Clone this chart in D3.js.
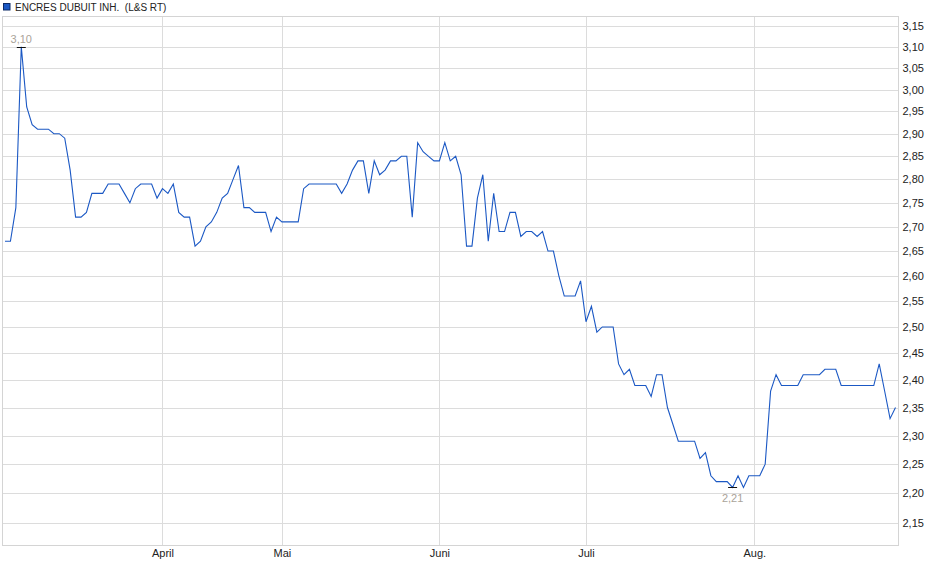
<!DOCTYPE html>
<html>
<head>
<meta charset="utf-8">
<script src="https://cdn.jsdelivr.net/npm/d3@7/dist/d3.min.js"></script>
<style>
  html, body { margin: 0; padding: 0; background: #fff; }
  svg { display: block; font-family: "Liberation Sans", Arial, sans-serif; }
</style>
</head>
<body>
<svg id="chart" width="940" height="579"></svg>
<script>
// ---- data ----
const seriesName = "ENCRES DUBUIT INH.  (L&S RT)";
const prices = [
  2.67, 2.67, 2.74, 3.10, 2.96, 2.92, 2.91, 2.91, 2.91, 2.90,
  2.90, 2.89, 2.82, 2.72, 2.72, 2.73, 2.77, 2.77, 2.77, 2.79,
  2.79, 2.79, 2.77, 2.75, 2.78, 2.79, 2.79, 2.79, 2.76, 2.78,
  2.77, 2.79, 2.73, 2.72, 2.72, 2.66, 2.67, 2.70, 2.71, 2.73,
  2.76, 2.77, 2.80, 2.83, 2.74, 2.74, 2.73, 2.73, 2.73, 2.69,
  2.72, 2.71, 2.71, 2.71, 2.71, 2.78, 2.79, 2.79, 2.79, 2.79,
  2.79, 2.79, 2.77, 2.79, 2.82, 2.84, 2.84, 2.77, 2.84, 2.81,
  2.82, 2.84, 2.84, 2.85, 2.85, 2.72, 2.88, 2.86, 2.85, 2.84,
  2.84, 2.88, 2.84, 2.85, 2.81, 2.66, 2.66, 2.76, 2.81, 2.67,
  2.77, 2.69, 2.69, 2.73, 2.73, 2.68, 2.69, 2.69, 2.68, 2.69,
  2.65, 2.65, 2.60, 2.56, 2.56, 2.56, 2.59, 2.51, 2.54, 2.49,
  2.50, 2.50, 2.50, 2.43, 2.41, 2.42, 2.39, 2.39, 2.39, 2.37,
  2.41, 2.41, 2.35, 2.32, 2.29, 2.29, 2.29, 2.29, 2.26, 2.27,
  2.23, 2.22, 2.22, 2.22, 2.21, 2.23, 2.21, 2.23, 2.23, 2.23,
  2.25, 2.38, 2.41, 2.39, 2.39, 2.39, 2.39, 2.41, 2.41, 2.41,
  2.41, 2.42, 2.42, 2.42, 2.39, 2.39, 2.39, 2.39, 2.39, 2.39,
  2.39, 2.43, 2.38, 2.33, 2.35
];
const monthLabels = ["April", "Mai", "Juni", "Juli", "Aug."];
const monthIndex = [29, 51, 80, 107, 138];
const yTickValues = [2.15, 2.20, 2.25, 2.30, 2.35, 2.40, 2.45, 2.50, 2.55, 2.60,
                     2.65, 2.70, 2.75, 2.80, 2.85, 2.90, 2.95, 3.00, 3.05, 3.10, 3.15];
const yDomain = [2.1145, 3.1743];

// ---- layout ----
const plot = { left: 2.5, right: 898.5, top: 16, bottom: 545 };
const svg = d3.select("#chart");

const x = d3.scaleLinear().domain([0, prices.length - 1]).range([5, 895.5]);
const y = d3.scaleLog().domain(yDomain).range([plot.bottom, plot.top]);
const fmt = v => d3.format(".2f")(v).replace(".", ",");
const crisp = v => Math.round(v) + 0.5;

// horizontal grid
svg.append("g").selectAll("line").data(yTickValues).join("line")
  .attr("x1", plot.left).attr("x2", plot.right)
  .attr("y1", d => crisp(y(d))).attr("y2", d => crisp(y(d)))
  .attr("stroke", "#dcdcdc").attr("stroke-width", 1);

// vertical grid
svg.append("g").selectAll("line").data(monthIndex).join("line")
  .attr("x1", d => crisp(x(d))).attr("x2", d => crisp(x(d)))
  .attr("y1", plot.top).attr("y2", plot.bottom)
  .attr("stroke", "#dcdcdc").attr("stroke-width", 1);

// frame
svg.append("rect")
  .attr("x", plot.left).attr("y", plot.top + 0.5)
  .attr("width", plot.right - plot.left).attr("height", plot.bottom - plot.top)
  .attr("fill", "none").attr("stroke", "#d4d4d4").attr("stroke-width", 1);

// right axis labels
const yAxis = d3.axisRight(y).tickValues(yTickValues).tickFormat(fmt).tickSize(0).tickPadding(4);
const ya = svg.append("g").attr("transform", `translate(${plot.right},0)`).call(yAxis);
ya.select(".domain").remove();
ya.selectAll("text").attr("font-size", "11px").attr("fill", "#222")
  .attr("font-family", "Liberation Sans, Arial, sans-serif");

// bottom axis labels
const xAxis = d3.axisBottom(x).tickValues(monthIndex)
  .tickFormat((d, i) => monthLabels[i]).tickSize(0).tickPadding(4);
const xa = svg.append("g").attr("transform", `translate(0,${plot.bottom})`).call(xAxis);
xa.select(".domain").remove();
xa.selectAll("text").attr("font-size", "11px").attr("fill", "#222")
  .attr("font-family", "Liberation Sans, Arial, sans-serif");

// price line
const line = d3.line().x((d, i) => x(i)).y(d => y(d));
svg.append("path").datum(prices)
  .attr("d", line).attr("fill", "none")
  .attr("stroke", "#1b58c4").attr("stroke-width", 1.1)
  .attr("stroke-linejoin", "miter");

// high / low markers
const hiI = prices.indexOf(d3.max(prices));
const loI = prices.indexOf(d3.min(prices));
const markers = [
  { i: hiI, v: prices[hiI], dy: -5 },
  { i: loI, v: prices[loI], dy: 14 }
];
markers.forEach(m => {
  const cx = x(m.i), cy = Math.round(y(m.v)) + 0.5;
  svg.append("line").attr("x1", cx - 4.5).attr("x2", cx + 4.5)
    .attr("y1", cy).attr("y2", cy).attr("stroke", "#111").attr("stroke-width", 1);
  svg.append("text").attr("x", cx).attr("y", cy + m.dy)
    .attr("text-anchor", "middle").attr("font-size", "11px").attr("fill", "#aaa399")
    .text(fmt(m.v));
});

// legend
svg.append("rect").attr("x", 3.5).attr("y", 3.5).attr("width", 6.5).attr("height", 6.5)
  .attr("fill", "#1b58c4").attr("stroke", "#0d2a66").attr("stroke-width", 1);
svg.append("text").attr("x", 15).attr("y", 11).attr("font-size", "10px").attr("fill", "#222")
  .attr("xml:space", "preserve").style("white-space", "pre")
  .text(seriesName);
</script>
</body>
</html>
